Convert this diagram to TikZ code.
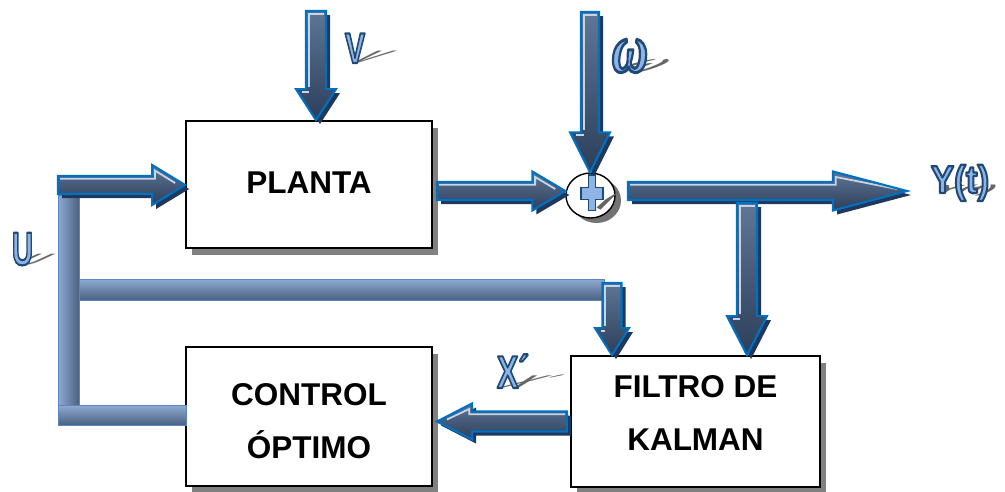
\documentclass[tikz,border=0pt]{standalone}
\usepackage{fontspec}
\setmainfont{Liberation Sans}
\newfontfamily\omegafont{Liberation Serif}
\usetikzlibrary{calc,shadows,shapes.geometric}

\definecolor{arrline}{HTML}{0070C0}
\definecolor{arrtop}{HTML}{5F7696}
\definecolor{arrbot}{HTML}{2C3E5A}
\definecolor{arrshade}{HTML}{22385A}
\definecolor{arrhl}{HTML}{C6D4E6}
\definecolor{barlight}{HTML}{8EAAD3}
\definecolor{bardark}{HTML}{4B6181}
\definecolor{barline}{HTML}{5B86C2}
\definecolor{wafill}{HTML}{8DB4E2}
\definecolor{waline}{HTML}{1F4A78}

% outline of a horizontal block arrow: tail, tip, shaft half width,
% head half width, signed head length, canvas offset x, canvas offset y
\def\hpoly#1#2#3#4#5#6#7{let \p1=(#1),\p2=(#2) in
  ({\x1+(#6)},{\y1+(#3)+(#7)}) -- ({\x2-(#5)+(#6)},{\y1+(#3)+(#7)}) --
  ({\x2-(#5)+(#6)},{\y1+(#4)+(#7)}) -- ({\x2+(#6)},{\y1+(#7)}) --
  ({\x2-(#5)+(#6)},{\y1-(#4)+(#7)}) -- ({\x2-(#5)+(#6)},{\y1-(#3)+(#7)}) --
  ({\x1+(#6)},{\y1-(#3)+(#7)}) -- cycle}
% light edge along the upper side of a horizontal arrow (#6 = direction sign)
\def\hhl#1#2#3#4#5#6{let \p1=(#1),\p2=(#2) in
  ({\x1+(#6)*2pt},{\y1+(#3)-2.8pt}) -- ({\x2-(#5)+(#6)*2.8pt},{\y1+(#3)-2.8pt}) --
  ({\x2-(#5)+(#6)*2.8pt},{\y1+(#4)-5.5pt}) -- ({\x2-(#6)*10pt},{\y1+2pt})}
% outline of a downward block arrow
\def\vpoly#1#2#3#4#5#6#7{let \p1=(#1),\p2=(#2) in
  ({\x1-(#3)+(#6)},{\y1+(#7)}) -- ({\x1-(#3)+(#6)},{\y2+(#5)+(#7)}) --
  ({\x1-(#4)+(#6)},{\y2+(#5)+(#7)}) -- ({\x1+(#6)},{\y2+(#7)}) --
  ({\x1+(#4)+(#6)},{\y2+(#5)+(#7)}) -- ({\x1+(#3)+(#6)},{\y2+(#5)+(#7)}) --
  ({\x1+(#3)+(#6)},{\y1+(#7)}) -- cycle}
% light edges on the left side of a downward arrow
\def\vhl#1#2#3#4#5{let \p1=(#1),\p2=(#2) in
  ({\x1-(#3)+2pt},{\y1-2.8pt}) -- ({\x1+(#3)-2pt},{\y1-2.8pt})
  ({\x1-(#3)+2.8pt},{\y1-2pt}) -- ({\x1-(#3)+2.8pt},{\y2+(#5)+2pt})
  ({\x1-(#3)+2.8pt},{\y2+(#5)-2.8pt}) -- ({\x1-(#4)+5.5pt},{\y2+(#5)-2.8pt})}

\newcommand\harrow[6]{%
  \fill[arrshadow] \hpoly{#1}{#2}{#3}{#4}{#5}{4pt}{-4pt};
  \path[arrbody] \hpoly{#1}{#2}{#3}{#4}{#5}{0pt}{0pt};
  \draw[arrhilite] \hhl{#1}{#2}{#3}{#4}{#5}{#6};
  \draw[arrline, line width=2.1pt, line join=miter] \hpoly{#1}{#2}{#3}{#4}{#5}{0pt}{0pt};}
\newcommand\varrow[5]{%
  \fill[arrshadow] \vpoly{#1}{#2}{#3}{#4}{#5}{4pt}{-4pt};
  \path[arrbody] \vpoly{#1}{#2}{#3}{#4}{#5}{0pt}{0pt};
  \draw[arrhilite] \vhl{#1}{#2}{#3}{#4}{#5};
  \draw[arrline, line width=2.1pt, line join=miter] \vpoly{#1}{#2}{#3}{#4}{#5}{0pt}{0pt};}

\newcommand\wafont[1]{\fontsize{#1}{#1}\selectfont\bfseries}
% letters filled light blue and stroked dark blue (PDF text render mode 2)
\newcommand\outlined[1]{\special{pdf:literal direct 2 Tr 2.2 w 1 j 0.122 0.290 0.471 RG}#1\special{pdf:literal direct 0 Tr}}

\tikzset{
  arrbody/.style={top color=arrtop, bottom color=arrbot},
  arrshadow/.style={fill=arrshade},
  arrhilite/.style={draw=arrhl, line width=1.8pt, line cap=butt},
  barh/.style={top color=barlight, bottom color=bardark, draw=barline, line width=0.8pt},
  barv/.style={left color=barlight, right color=bardark, draw=barline, line width=0.8pt},
  blk/.style={draw=black, line width=1.8pt, fill=white, inner sep=0pt,
    drop shadow={shadow xshift=6pt, shadow yshift=-7pt, opacity=1, fill=black!50}},
  blktxt/.style={inner sep=0pt, align=center, font=\bfseries\fontsize{31.5}{53}\selectfont},
  walbl/.style={inner sep=0pt, anchor=base, text=wafill},
  wash/.style={inner sep=0pt, anchor=base, text=black!70, opacity=0.85, transform shape},
}

\begin{document}
\begin{tikzpicture}[x=1pt,y=-1pt]
\useasboundingbox (0,0) rectangle (1005,491);
\fill[white] (0,0) rectangle (1005,491);

% blocks
\node[blk, minimum width=246pt, minimum height=127pt] (planta) at (309,184.5) {};
\node[blk, minimum width=246pt, minimum height=139pt] (control) at (309,416.5) {};
\node[blk, minimum width=249pt, minimum height=131pt] (kalman) at (695.5,421.5) {};
\node[blktxt] (plantaT) at ($(planta.center)+(0,-2)$) {PLANTA};
\node[blktxt] (controlT) at ($(control.center)+(0,5)$) {CONTROL\\ÓPTIMO};
\node[blktxt] (kalmanT) at ($(kalman.center)+(0,-9)$) {FILTRO DE\\KALMAN};

% summing junction
\node[draw=black, line width=1.4pt, fill=white, ellipse, minimum width=49pt,
  minimum height=45pt, inner sep=0pt,
  drop shadow={shadow xshift=6pt, shadow yshift=-5pt, opacity=1, fill=black!55}]
  (sum) at (590.5,195.5) {};
\begin{scope}[shift={(sum.center)}]
  \fill[black!60] (6,12) -- (15,4) -- (28,-4) -- (20,4) -- (10,14) -- cycle;
  \filldraw[fill=wafill, draw=waline, line width=1.2pt]
    (-2.2,-20.5) -- (5.2,-20.5) -- (5.2,-8.2) -- (12.5,-8.2) -- (12.5,3.8) --
    (5.2,3.8) -- (5.2,15.2) -- (-2.2,15.2) -- (-2.2,3.8) -- (-9.5,3.8) --
    (-9.5,-8.2) -- (-2.2,-8.2) -- cycle;
\end{scope}

% signal bus for U
\path[barv] (58,195) rectangle (79,406);
\path[barh] (79,279) rectangle (604,300);
\path[barh] (58,405) rectangle (186,425);

% arrow end points
\coordinate (uTail) at (58,185);
\coordinate (pTail) at (437,191);
\coordinate (yTail) at (628,191);
\coordinate (yTip) at (907,191);
\coordinate (vTail) at (316,11);
\coordinate (wTail) at (590,12);
\coordinate (bTail) at (747,203);
\coordinate (sTail) at (612,283);
\coordinate (kTail) at (567,421.5);
\coordinate (cTip) at (437,421.5);

% block arrows
\harrow{uTail}{planta.west|-uTail}{9pt}{20pt}{33pt}{1}
\harrow{pTail}{sum.west|-pTail}{9pt}{19.5pt}{33pt}{1}
\harrow{yTail}{yTip}{9pt}{19.5pt}{74pt}{1}
\harrow{kTail}{cTip}{10pt}{18pt}{-35pt}{-1}
\varrow{vTail}{vTail|-planta.north}{10pt}{20pt}{31pt}
\varrow{wTail}{wTail|-sum.north}{9pt}{20pt}{40pt}
\varrow{bTail}{bTail|-kalman.north}{10pt}{20pt}{39pt}
\varrow{sTail}{sTail|-kalman.north}{9.5pt}{17pt}{27pt}

% signal labels with their cast shadows
\coordinate (vBase) at (355,63);
\coordinate (wBase) at (630,72);
\coordinate (yBase) at (960,193);
\coordinate (uBase) at (22.5,265);
\coordinate (xBase) at (513,388);

\begin{scope}[shift={(vBase)}]
  \node[wash, cm={1,0,1.1,0.42,(0,0)}] (vSh) at (0,0) {\wafont{43}\scalebox{0.7}[1]{V}};
\end{scope}
\begin{scope}[shift={(wBase)}]
  \node[wash, cm={1,0,0.9,0.4,(0,0)}] (wSh) at (0,0) {\wafont{50}\omegafont\bfseries\itshape\scalebox{1}[1.4]{ω}};
\end{scope}
\begin{scope}[shift={(yBase)}]
  \node[wash, cm={1,0,0.45,0.3,(0,0)}] (ySh) at (0,0) {\wafont{39}\scalebox{0.9}[1]{Y(t)}};
\end{scope}
\begin{scope}[shift={(uBase)}]
  \node[wash, cm={1,0,0.75,0.35,(0,0)}] (uSh) at (0,0) {\wafont{47}\scalebox{0.62}[1]{U}};
\end{scope}
\begin{scope}[shift={(xBase)}]
  \node[wash, cm={1,0,1.1,0.4,(0,0)}] (xSh) at (0,0) {\wafont{46}\scalebox{0.7}[1]{X´}};
\end{scope}

\node[walbl] (lblV) at (vBase) {\wafont{43}\scalebox{0.7}[1]{\outlined{V}}};
\node[walbl] (lblW) at (wBase) {\wafont{50}\omegafont\bfseries\itshape\scalebox{1}[1.4]{\outlined{ω}}};
\node[walbl] (lblY) at (yBase) {\wafont{39}\scalebox{0.9}[1]{\outlined{Y(t)}}};
\node[walbl] (lblU) at (uBase) {\wafont{47}\scalebox{0.62}[1]{\outlined{U}}};
\node[walbl] (lblX) at (xBase) {\wafont{46}\scalebox{0.7}[1]{\outlined{X´}}};
\end{tikzpicture}
\end{document}
